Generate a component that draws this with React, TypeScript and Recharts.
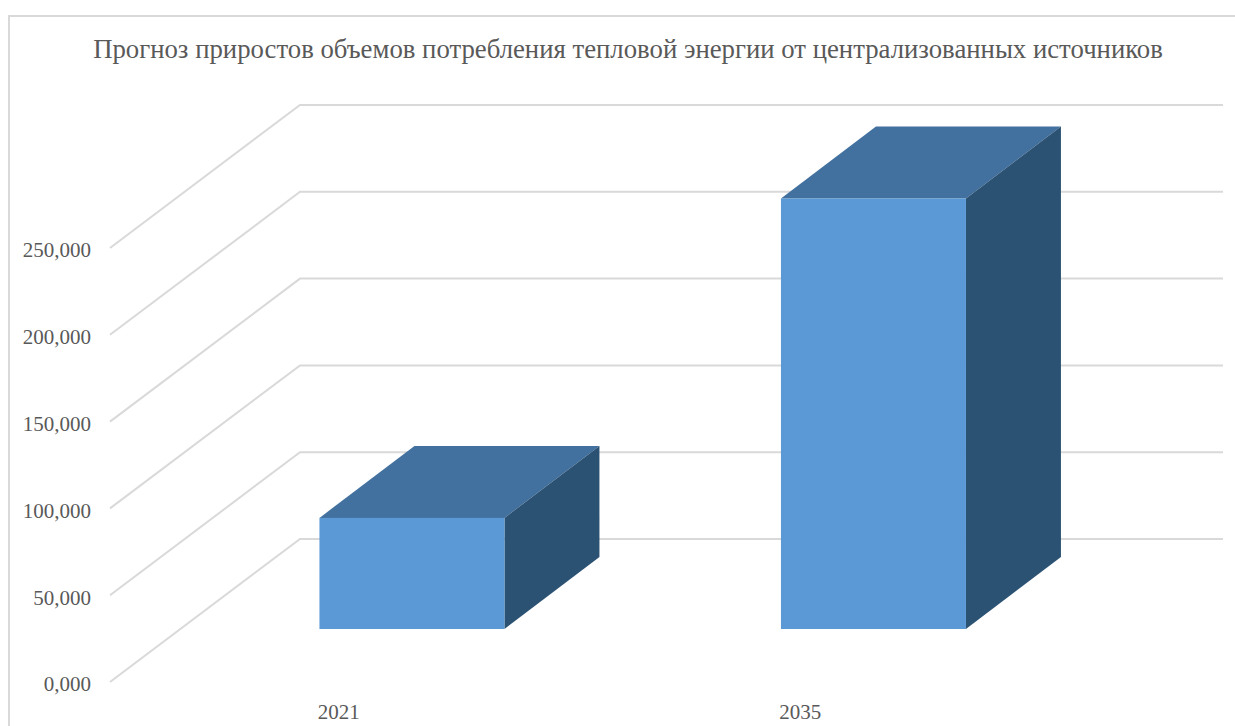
import React from "react";
import { BarChart, Bar, XAxis, YAxis, CartesianGrid } from "recharts";

const title = "Прогноз приростов объемов потребления тепловой энергии от централизованных источников";
const years = ["2021", "2035"];
const values = [64, 248];
const yTicks = [0, 50, 100, 150, 200, 250];

const data = years.map((year, i) => ({ year, value: values[i] }));

const FONT = "'Liberation Serif', serif";
const TEXT = "#595959";
const GRID = "#d9d9d9";

// 3D projection, all in px
const WALL_DX = 192;
const WALL_DY = 143;
const BAR_SHIFT_X = 73;
const BAR_SHIFT_Y = 53;
const DEPTH_DX = 95;
const DEPTH_DY = 72;

// one gridline: floor/side wall diagonal, then along the back wall
const WallLine = (props: any) => {
  const { x1, y1, x2 } = props;
  const backX = x1 + WALL_DX;
  const backY = y1 - WALL_DY;
  return (
    <polyline
      points={`${x1 + 2},${y1} ${backX},${backY} ${x2 + WALL_DX},${backY}`}
      fill="none"
      stroke={GRID}
      strokeWidth={2}
    />
  );
};

const Box = (props: any) => {
  const { x, y, width, height } = props;
  const l = x + BAR_SHIFT_X;
  const r = l + width;
  const t = y - BAR_SHIFT_Y;
  const b = t + height;
  return (
    <g>
      <polygon
        points={`${l},${t} ${r},${t} ${r + DEPTH_DX},${t - DEPTH_DY} ${l + DEPTH_DX},${t - DEPTH_DY}`}
        fill="#42719f"
      />
      <polygon
        points={`${r},${t} ${r + DEPTH_DX},${t - DEPTH_DY} ${r + DEPTH_DX},${b - DEPTH_DY} ${r},${b}`}
        fill="#2c5273"
      />
      <rect x={l} y={t} width={width} height={height} fill="#5a99d6" />
    </g>
  );
};

export default function App() {
  return (
    <div style={{ position: "absolute", left: 0, top: 0, width: 1235, height: 726, overflow: "hidden", background: "#fff" }}>
      <div
        style={{
          position: "absolute",
          left: 8,
          top: 15,
          width: 1240,
          height: 720,
          border: `2px solid ${GRID}`,
        }}
      />
      <div
        style={{
          position: "absolute",
          left: 0,
          width: 1256,
          top: 34,
          textAlign: "center",
          fontFamily: FONT,
          fontSize: 26.75,
          color: TEXT,
          whiteSpace: "nowrap",
        }}
      >
        {title}
      </div>
      <div style={{ position: "absolute", left: 0, top: 0 }}>
        <BarChart
          width={1235}
          height={726}
          data={data}
          margin={{ top: 248, right: 204, bottom: 0, left: 0 }}
          barCategoryGap="30%"
        >
          <CartesianGrid vertical={false} horizontal={<WallLine />} />
          <XAxis
            dataKey="year"
            height={44}
            axisLine={false}
            tickLine={false}
            tickSize={0}
            tickMargin={22}
            tick={{ fill: TEXT, fontFamily: FONT, fontSize: 21 }}
          />
          <YAxis
            width={108}
            domain={[0, 250]}
            ticks={yTicks}
            axisLine={false}
            tickLine={false}
            tickSize={0}
            tickMargin={17}
            tickFormatter={(v: number) => v.toFixed(3).replace(".", ",")}
            tick={{ fill: TEXT, fontFamily: FONT, fontSize: 21, dy: 2 }}
          />
          <Bar dataKey="value" isAnimationActive={false} shape={<Box />} />
        </BarChart>
      </div>
    </div>
  );
}
